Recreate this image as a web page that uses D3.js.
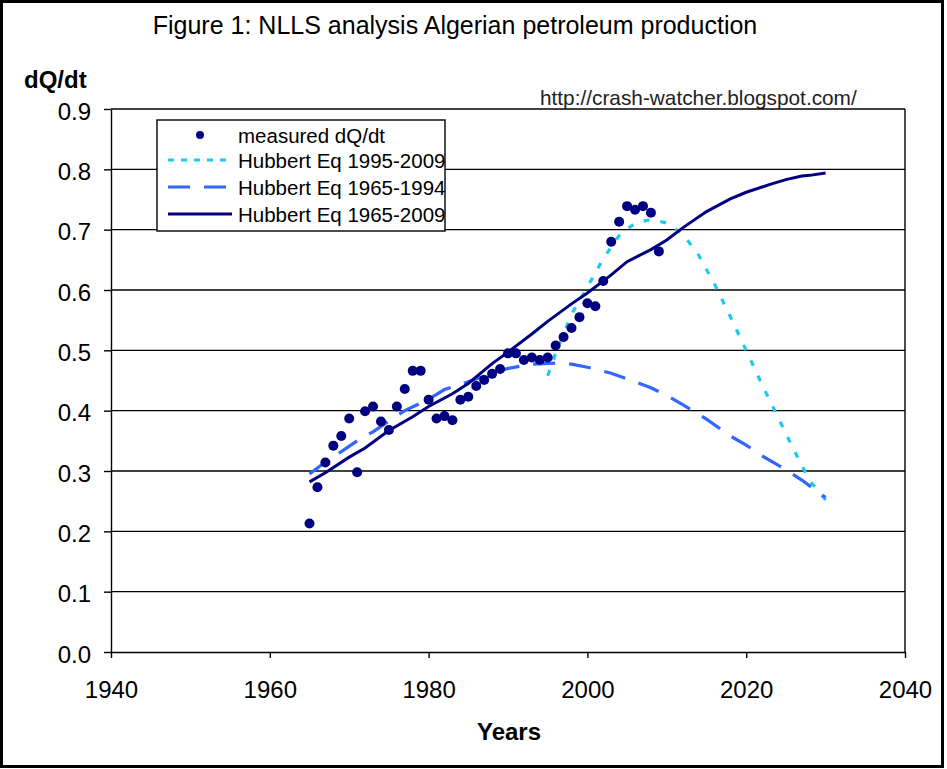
<!DOCTYPE html>
<html lang="en">
<head>
<meta charset="UTF-8">
<style type="text/css">
    body { margin: 0; background: #fff; }
    svg { display: block; font-family: "Liberation Sans", Arial, sans-serif; }
    .grid line { stroke: #000; stroke-width: 1.4; }
    .axis path, .axis line { fill: none; stroke: #000; stroke-width: 1.4; }
    .axis text { font-size: 24px; fill: #000; }
    .legend text { font-size: 20.5px; fill: #000; }
</style>
</head>
<body>
<script src="https://d3js.org/d3.v7.min.js"></script>
<script type="text/javascript">

    // measured dQ/dt, 1965-2009
    var measuredYears = [1965, 1966, 1967, 1968, 1969, 1970, 1971, 1972, 1973, 1974,
        1975, 1976, 1977, 1978, 1979, 1980, 1981, 1982, 1983, 1984,
        1985, 1986, 1987, 1988, 1989, 1990, 1991, 1992, 1993, 1994,
        1995, 1996, 1997, 1998, 1999, 2000, 2001, 2002, 2003, 2004,
        2005, 2006, 2007, 2008, 2009];
    var measured = [0.213, 0.273, 0.314, 0.342, 0.358, 0.387, 0.298, 0.399, 0.407, 0.382,
        0.368, 0.407, 0.436, 0.466, 0.466, 0.418, 0.387, 0.391, 0.384, 0.418,
        0.423, 0.441, 0.451, 0.461, 0.469, 0.495, 0.495, 0.484, 0.488, 0.484,
        0.488, 0.508, 0.522, 0.537, 0.555, 0.578, 0.573, 0.615, 0.680, 0.713,
        0.739, 0.733, 0.739, 0.728, 0.664];

    // Hubbert Eq fit 1995-2009 (dotted)
    var fitLateYears = [1995, 1996, 1998, 2000, 2002, 2004, 2006, 2008, 2010, 2012,
        2014, 2016, 2018, 2020, 2022, 2024, 2026, 2028, 2030];
    var fitLate = [0.458, 0.495, 0.560, 0.605, 0.652, 0.690, 0.711, 0.717, 0.711, 0.693,
        0.658, 0.610, 0.556, 0.500, 0.443, 0.389, 0.335, 0.284, 0.252];

    // Hubbert Eq fit 1965-1994 (dashed)
    var fitEarlyYears = [1965, 1967, 1969, 1971, 1973, 1975, 1977, 1980, 1982, 1985,
        1988, 1990, 1993, 1996, 1998, 2000, 2003, 2006, 2008, 2010,
        2012, 2015, 2018, 2020, 2022, 2025, 2027, 2030];
    var fitEarly = [0.295, 0.315, 0.332, 0.350, 0.365, 0.383, 0.400, 0.419, 0.435, 0.448,
        0.462, 0.470, 0.477, 0.479, 0.477, 0.472, 0.462, 0.448, 0.438, 0.425,
        0.410, 0.386, 0.358, 0.343, 0.325, 0.302, 0.285, 0.256];

    // Hubbert Eq fit 1965-2009 (solid)
    var fitAllYears = [1965, 1967, 1970, 1972, 1975, 1978, 1980, 1983, 1985, 1988,
        1990, 1993, 1995, 1998, 2000, 2003, 2005, 2008, 2010, 2012,
        2015, 2018, 2020, 2023, 2025, 2027, 2028, 2030];
    var fitAll = [0.282, 0.297, 0.323, 0.338, 0.367, 0.390, 0.407, 0.428, 0.445, 0.478,
        0.497, 0.527, 0.548, 0.577, 0.595, 0.625, 0.647, 0.667, 0.683, 0.703,
        0.730, 0.751, 0.762, 0.775, 0.783, 0.789, 0.790, 0.794];

    var xTicks = [1940, 1960, 1980, 2000, 2020, 2040];
    var yTicks = [0, 0.1, 0.2, 0.3, 0.4, 0.5, 0.6, 0.7, 0.8, 0.9];

    var legendLabels = ["measured dQ/dt", "Hubbert Eq 1995-2009", "Hubbert Eq 1965-1994", "Hubbert Eq 1965-2009"];

    var W = 947, H = 769;
    var margin = { top: 109, right: 42, bottom: 117, left: 111 },
        width = W - margin.left - margin.right,
        height = H - margin.top - margin.bottom;

    var navy = "#000080", dashBlue = "#3366ff", cyan = "#1ccaf0";

    var root = d3.select("body").append("svg")
        .attr("width", W)
        .attr("height", H);

    // outer frame
    root.append("rect")
        .attr("x", 1.5).attr("y", 1.5)
        .attr("width", 941).attr("height", 765)
        .attr("fill", "#fff")
        .attr("stroke", "#000")
        .attr("stroke-width", 3);

    root.append("text")
        .attr("x", 455).attr("y", 34)
        .attr("text-anchor", "middle")
        .attr("font-size", "25px")
        .text("Figure 1: NLLS analysis Algerian petroleum production");

    root.append("text")
        .attr("x", 540).attr("y", 105)
        .attr("font-size", "20.8px")
        .attr("fill", "#222")
        .text("http://crash-watcher.blogspot.com/");

    root.append("text")
        .attr("x", 24).attr("y", 88)
        .attr("font-size", "24px")
        .attr("font-weight", "bold")
        .text("dQ/dt");

    root.append("text")
        .attr("x", 509).attr("y", 740)
        .attr("text-anchor", "middle")
        .attr("font-size", "24px")
        .attr("font-weight", "bold")
        .text("Years");

    var svg = root.append("g")
        .attr("transform", "translate(" + margin.left + "," + margin.top + ")");

    var x = d3.scaleLinear().domain([1940, 2040]).range([0, width]);
    var y = d3.scaleLinear().domain([0, 0.9]).range([height, 0]);

    // horizontal gridlines
    svg.append("g")
        .attr("class", "grid")
        .selectAll("line")
        .data(yTicks.slice(1))
        .enter().append("line")
        .attr("x1", 0).attr("x2", width)
        .attr("y1", function (d) { return y(d); })
        .attr("y2", function (d) { return y(d); });

    // right edge of plot area
    svg.append("line")
        .attr("x1", width).attr("x2", width)
        .attr("y1", 0).attr("y2", height)
        .attr("stroke", "#000").attr("stroke-width", 1.4);

    svg.append("g")
        .attr("class", "axis")
        .attr("transform", "translate(0," + height + ")")
        .call(d3.axisBottom(x).tickValues(xTicks).tickFormat(d3.format("d"))
            .tickSizeInner(6).tickSizeOuter(0).tickPadding(23));

    svg.append("g")
        .attr("class", "axis")
        .call(d3.axisLeft(y).tickValues(yTicks).tickFormat(d3.format(".1f"))
            .tickSizeInner(7).tickSizeOuter(0).tickPadding(13))
        .selectAll("text").attr("dy", "0.42em");

    var line = d3.line()
        .x(function (d) { return x(d[0]); })
        .y(function (d) { return y(d[1]); });

    svg.append("path")
        .attr("d", line(d3.zip(fitLateYears, fitLate)))
        .attr("fill", "none")
        .attr("stroke", cyan)
        .attr("stroke-width", 3.2)
        .attr("stroke-dasharray", "6,11");

    svg.append("path")
        .attr("d", line(d3.zip(fitEarlyYears, fitEarly)))
        .attr("fill", "none")
        .attr("stroke", dashBlue)
        .attr("stroke-width", 3.2)
        .attr("stroke-dasharray", "22,14");

    svg.append("path")
        .attr("d", line(d3.zip(fitAllYears, fitAll)))
        .attr("fill", "none")
        .attr("stroke", navy)
        .attr("stroke-width", 3);

    svg.selectAll(".dot")
        .data(d3.zip(measuredYears, measured))
        .enter().append("circle")
        .attr("class", "dot")
        .attr("cx", function (d) { return x(d[0]); })
        .attr("cy", function (d) { return y(d[1]); })
        .attr("r", 5)
        .attr("fill", navy);

    // legend
    var legend = root.append("g")
        .attr("class", "legend")
        .attr("transform", "translate(157,120)");

    legend.append("rect")
        .attr("width", 288).attr("height", 111)
        .attr("fill", "#fff")
        .attr("stroke", "#000")
        .attr("stroke-width", 1.4);

    var rowY = [15, 40, 67, 94];
    var styles = [null, { c: cyan, d: "6,7" }, { c: dashBlue, d: "22,14" }, { c: navy, d: null }];

    legendLabels.forEach(function (label, i) {
        var row = legend.append("g").attr("transform", "translate(0," + rowY[i] + ")");
        if (i === 0) {
            row.append("circle").attr("cx", 43).attr("cy", 0).attr("r", 4).attr("fill", navy);
        } else {
            row.append("line")
                .attr("x1", 11).attr("x2", 75)
                .attr("stroke", styles[i].c)
                .attr("stroke-width", 3.2)
                .attr("stroke-dasharray", styles[i].d);
        }
        row.append("text")
            .attr("x", 81).attr("y", 7.5)
            .text(label);
    });

</script>
</body>
</html>
